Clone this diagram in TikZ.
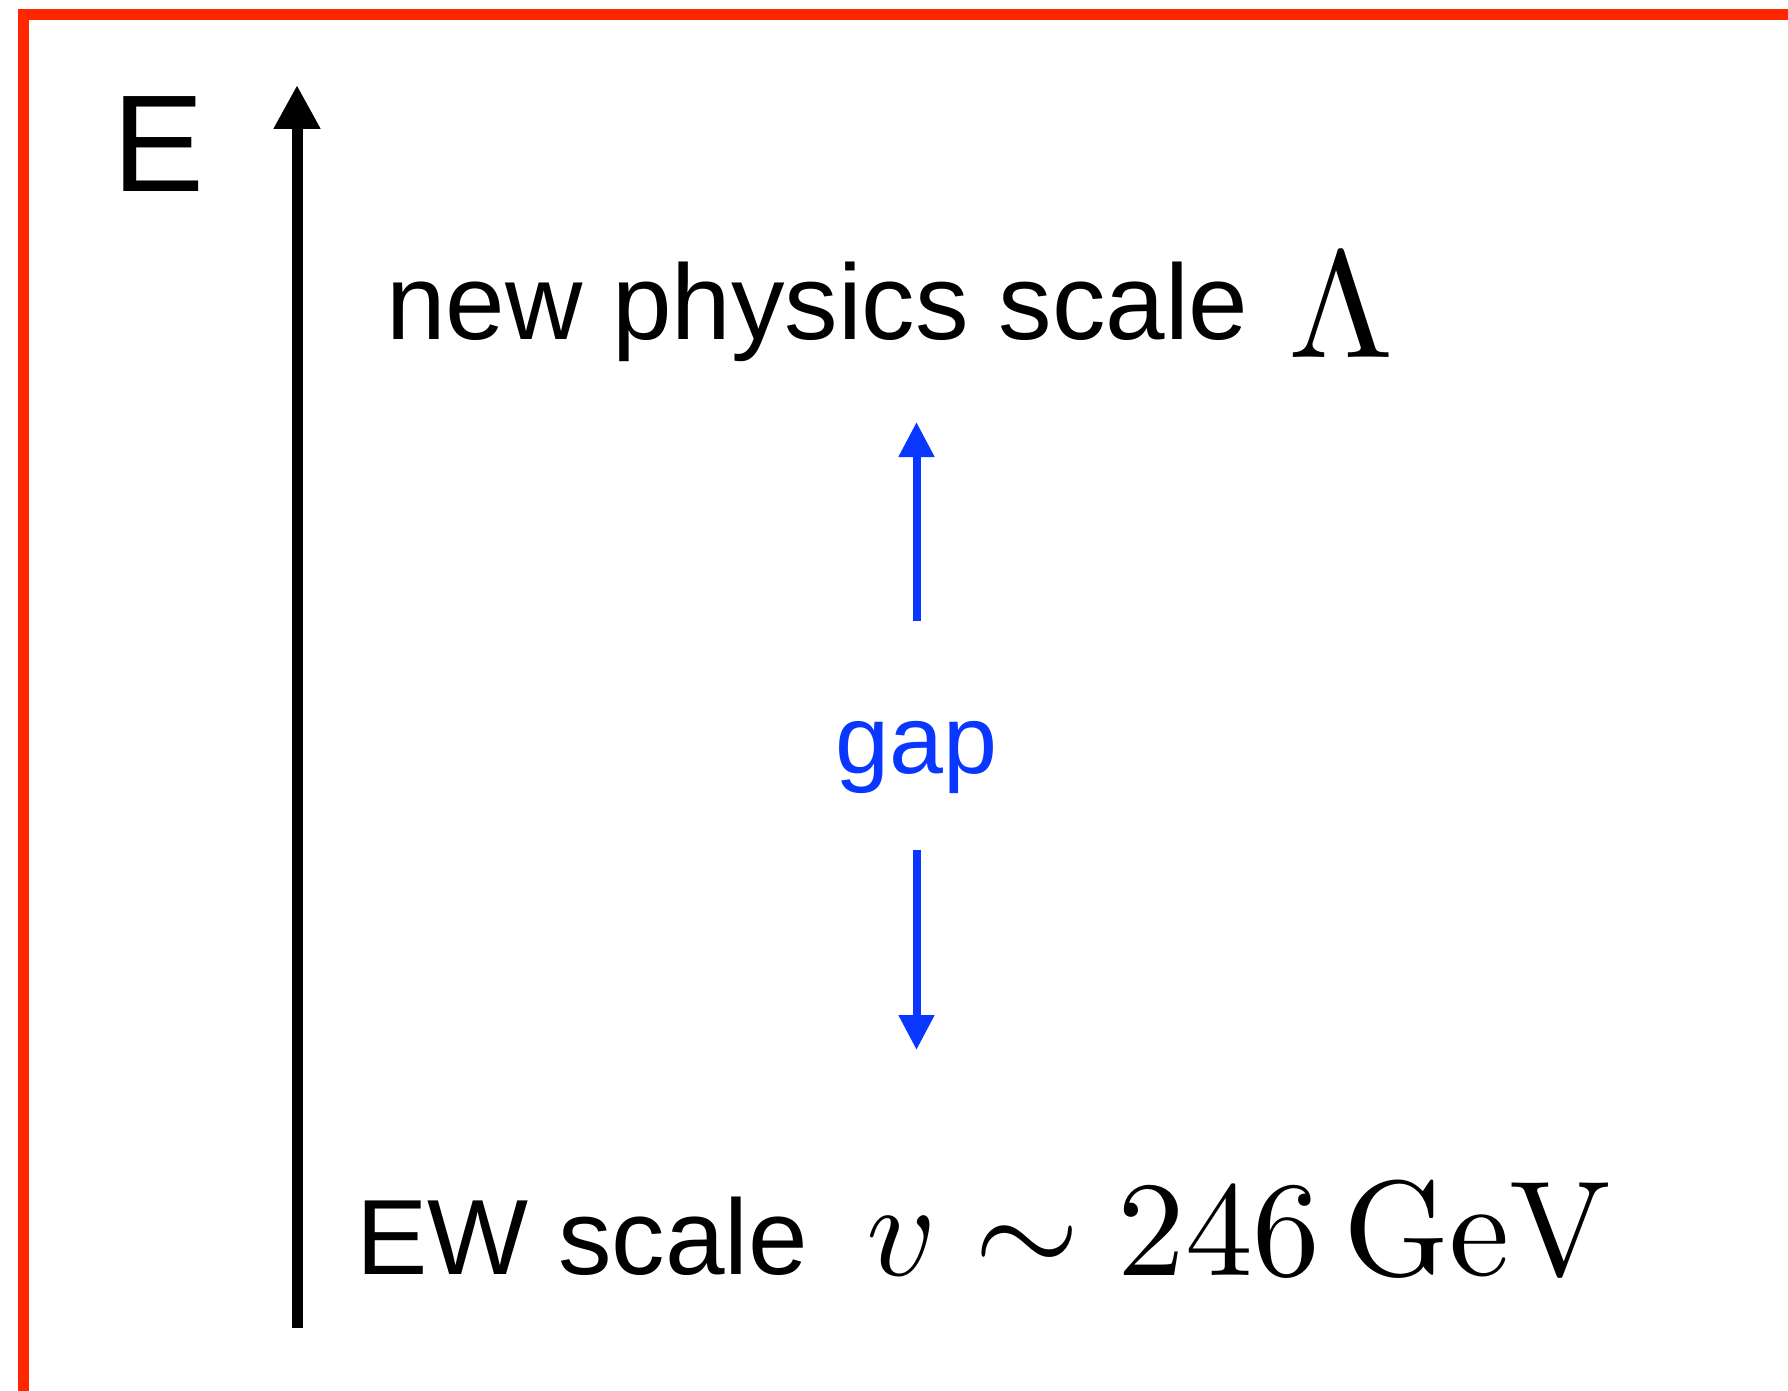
\RequirePackage{fix-cm}
\documentclass[tikz,border=0pt]{standalone}
\usepackage[no-math]{fontspec}
\setmainfont{Liberation Sans}
\usetikzlibrary{arrows.meta}
\definecolor{framered}{HTML}{FF2600}
\definecolor{gapblue}{HTML}{0A37FF}
\begin{document}
\begin{tikzpicture}[x=1pt,y=-1pt,
  lbl/.style={inner sep=0pt, anchor=base west},
  bigtext/.style={font=\fontsize{107}{128}\selectfont},
  axisarrow/.style={line width=11pt, -{Triangle[length=44pt,width=44pt]}},
  gaparrow/.style={draw=gapblue, fill=gapblue, line width=8pt, -{Triangle[length=35pt,width=34pt]}}]
\clip (0,0) rectangle (1788,1391);
\fill[white] (0,0) rectangle (1788,1391);
\draw[framered, line width=11pt] (23.5,1420) -- (23.5,15) -- (1820,15);
% axis
\coordinate (axbot) at (297,1328);
\coordinate (axtop) at (297,85);
\draw[axisarrow] (axbot) -- (axtop);
\node[lbl, font=\fontsize{138}{160}\selectfont] (E) at (112,192) {E};
% labels
\node[lbl, bigtext] (np) at (386,339) {new physics scale};
\node[lbl] (lam) at (1288,357) {\scalebox{15.2}{$\Lambda$}};
\node[lbl, bigtext] (ew) at (356,1274) {EW scale};
\node[lbl] (vev) at (866,1275) {\scalebox{13.55}{$v\sim 246\,\mathrm{GeV}$}};
% gap
\node[inner sep=0pt, anchor=base, text=gapblue, font=\fontsize{97}{116}\selectfont] (gap) at (916.5,773) {gap};
\coordinate (upfrom) at (916.5,621);
\coordinate (upto) at (916.5,422);
\coordinate (downfrom) at (916.5,850);
\coordinate (downto) at (916.5,1050);
\draw[gaparrow] (upfrom) -- (upto);
\draw[gaparrow] (downfrom) -- (downto);
\end{tikzpicture}
\end{document}
